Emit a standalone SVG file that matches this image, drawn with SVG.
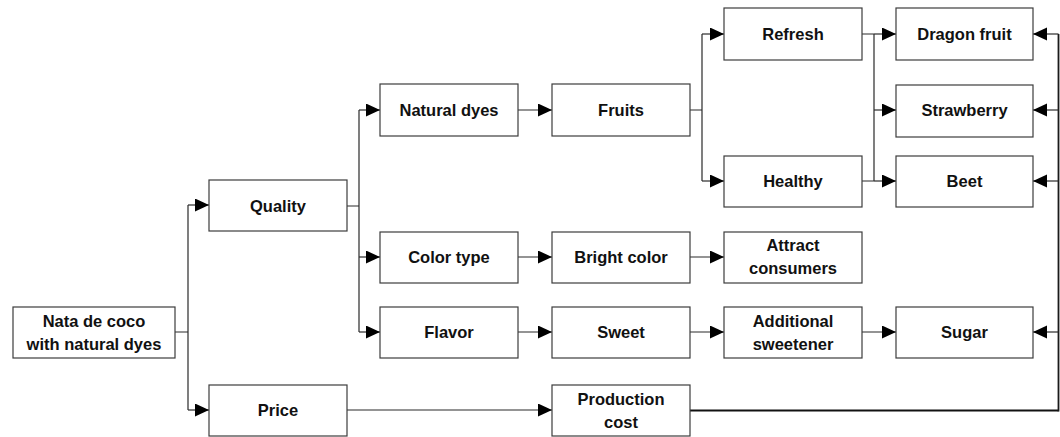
<svg xmlns="http://www.w3.org/2000/svg" width="1060" height="437" viewBox="0 0 1060 437">
<style>
.box{fill:#fff;stroke:#3c3c3c;stroke-width:1.2}
.lbl{font-family:"Liberation Sans",Arial,sans-serif;font-weight:bold;font-size:16.5px;fill:#111;text-anchor:middle}
.ln{fill:none;stroke:#2a2a2a;stroke-width:1.2}
.thick{fill:none;stroke:#111;stroke-width:2.2}
.mid{fill:none;stroke:#1a1a1a;stroke-width:1.8}
</style>
<defs>
<marker id="ah" markerUnits="userSpaceOnUse" markerWidth="14" markerHeight="14" refX="14" refY="6.5" orient="auto">
<path d="M0,0 L14,6.5 L0,13 z" fill="#000"/>
</marker>
</defs>
<rect width="1060" height="437" fill="#fff"/>
<g id="connectors">
<path class="ln" d="M175,332 H188 M188,205 V410"/>
<path class="ln" d="M188,205 H209" marker-end="url(#ah)"/>
<path class="ln" d="M188,410 H209" marker-end="url(#ah)"/>
<path class="ln" d="M347,206 H359 M359,110 V332"/>
<path class="ln" d="M359,110 H380" marker-end="url(#ah)"/>
<path class="ln" d="M359,257 H380" marker-end="url(#ah)"/>
<path class="ln" d="M359,332 H380" marker-end="url(#ah)"/>
<path class="ln" d="M518,110 H552" marker-end="url(#ah)"/>
<path class="ln" d="M690,110 H702 M702,34 V181"/>
<path class="ln" d="M702,34 H724" marker-end="url(#ah)"/>
<path class="ln" d="M702,181 H724" marker-end="url(#ah)"/>
<path class="ln" d="M862,34 H874 M874,34 V181 M862,181 H874"/>
<path class="ln" d="M874,34 H896" marker-end="url(#ah)"/>
<path class="ln" d="M874,110 H896" marker-end="url(#ah)"/>
<path class="ln" d="M874,181 H896" marker-end="url(#ah)"/>
<path class="ln" d="M518,257 H552" marker-end="url(#ah)"/>
<path class="ln" d="M690,257 H724" marker-end="url(#ah)"/>
<path class="ln" d="M518,332 H552" marker-end="url(#ah)"/>
<path class="ln" d="M690,332 H724" marker-end="url(#ah)"/>
<path class="ln" d="M862,332 H896" marker-end="url(#ah)"/>
<path class="ln" d="M347,410 H552" marker-end="url(#ah)"/>
<path class="thick" d="M690,410.5 H1058.5"/>
<path class="mid" d="M1058.5,411.5 V34"/>
<path class="ln" d="M1058.5,34 H1033" marker-end="url(#ah)"/>
<path class="ln" d="M1058.5,110 H1033" marker-end="url(#ah)"/>
<path class="ln" d="M1058.5,181 H1033" marker-end="url(#ah)"/>
<path class="ln" d="M1058.5,332 H1033" marker-end="url(#ah)"/>
</g>
<g id="n-nata"><rect class="box" x="13" y="307" width="162" height="51"/><text class="lbl" x="94" y="327">Nata de coco</text><text class="lbl" x="94" y="350">with natural dyes</text></g>
<g id="n-quality"><rect class="box" x="209" y="180" width="138" height="51"/><text class="lbl" x="278" y="212">Quality</text></g>
<g id="n-price"><rect class="box" x="209" y="385" width="138" height="51"/><text class="lbl" x="278" y="416">Price</text></g>
<g id="n-natural-dyes"><rect class="box" x="380" y="84" width="138" height="52"/><text class="lbl" x="449" y="116">Natural dyes</text></g>
<g id="n-color-type"><rect class="box" x="380" y="232" width="138" height="51"/><text class="lbl" x="449" y="263">Color type</text></g>
<g id="n-flavor"><rect class="box" x="380" y="307" width="138" height="51"/><text class="lbl" x="449" y="338">Flavor</text></g>
<g id="n-fruits"><rect class="box" x="552" y="84" width="138" height="52"/><text class="lbl" x="621" y="116">Fruits</text></g>
<g id="n-bright-color"><rect class="box" x="552" y="232" width="138" height="51"/><text class="lbl" x="621" y="263">Bright color</text></g>
<g id="n-sweet"><rect class="box" x="552" y="307" width="138" height="51"/><text class="lbl" x="621" y="338">Sweet</text></g>
<g id="n-production-cost"><rect class="box" x="552" y="385" width="138" height="51"/><text class="lbl" x="621" y="405">Production</text><text class="lbl" x="621" y="428">cost</text></g>
<g id="n-refresh"><rect class="box" x="724" y="8" width="138" height="52"/><text class="lbl" x="793" y="40">Refresh</text></g>
<g id="n-healthy"><rect class="box" x="724" y="156" width="138" height="51"/><text class="lbl" x="793" y="187">Healthy</text></g>
<g id="n-attract"><rect class="box" x="724" y="232" width="138" height="51"/><text class="lbl" x="793" y="251">Attract</text><text class="lbl" x="793" y="274">consumers</text></g>
<g id="n-additional"><rect class="box" x="724" y="307" width="138" height="51"/><text class="lbl" x="793" y="327">Additional</text><text class="lbl" x="793" y="350">sweetener</text></g>
<g id="n-dragon"><rect class="box" x="896" y="8" width="137" height="52"/><text class="lbl" x="964.5" y="40">Dragon fruit</text></g>
<g id="n-strawberry"><rect class="box" x="896" y="85" width="137" height="52"/><text class="lbl" x="964.5" y="116">Strawberry</text></g>
<g id="n-beet"><rect class="box" x="896" y="156" width="137" height="51"/><text class="lbl" x="964.5" y="187">Beet</text></g>
<g id="n-sugar"><rect class="box" x="896" y="307" width="137" height="51"/><text class="lbl" x="964.5" y="338">Sugar</text></g>
</svg>
